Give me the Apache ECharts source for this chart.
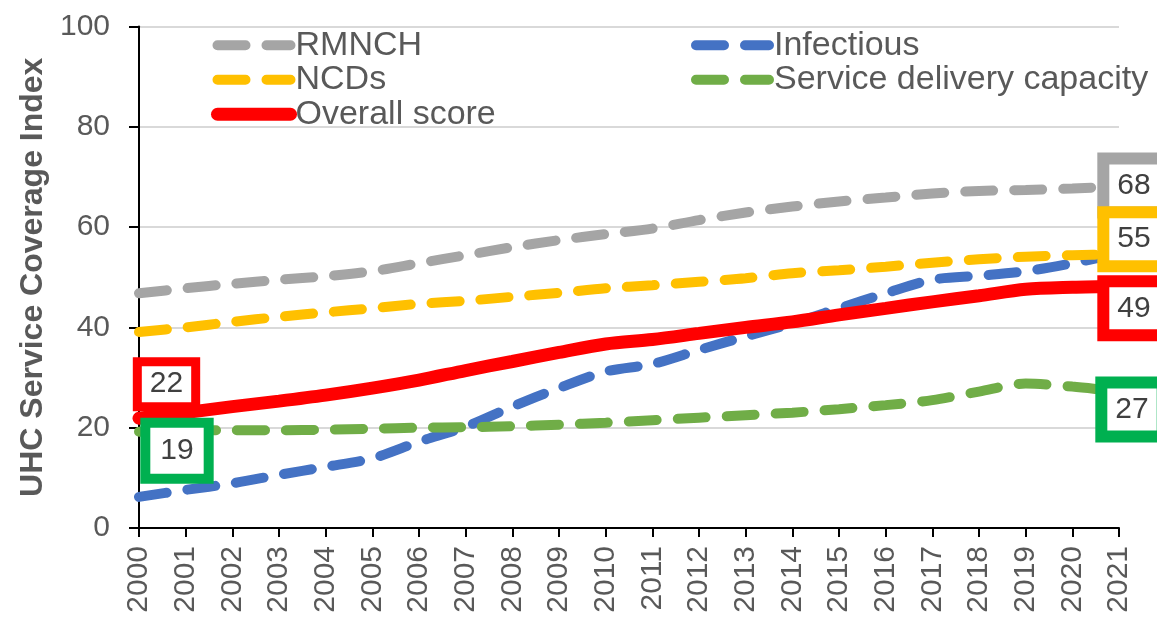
<!DOCTYPE html>
<html>
<head>
<meta charset="utf-8">
<script src="https://cdn.jsdelivr.net/npm/echarts@6/dist/echarts.min.js"></script>
<style>
  html, body { margin: 0; padding: 0; background: #fff; }
  #chart { width: 1157px; height: 620px; }
</style>
</head>
<body>
<div id="chart"></div>
<script>
const years = ['2000', '2001', '2002', '2003', '2004', '2005', '2006', '2007', '2008', '2009', '2010',
  '2011', '2012', '2013', '2014', '2015', '2016', '2017', '2018', '2019', '2020', '2021']

const rmnch = [46.8, 47.8, 48.7, 49.5, 50.2, 51.2, 52.8, 54.4, 56.0, 57.4, 58.6,
  59.7, 61.4, 62.9, 64.1, 65.1, 65.9, 66.7, 67.2, 67.4, 67.7, 68.1]
const ncds = [39.1, 40.0, 41.1, 42.1, 43.0, 43.8, 44.7, 45.3, 46.1, 46.9, 47.8,
  48.4, 49.1, 49.8, 50.8, 51.4, 52.1, 52.9, 53.6, 54.1, 54.4, 54.6]
const overall = [21.9, 23.0, 24.2, 25.3, 26.5, 27.9, 29.5, 31.4, 33.2, 35.0, 36.7,
  37.6, 38.8, 40.0, 41.1, 42.5, 43.8, 45.1, 46.3, 47.6, 48.0, 48.2]
const infectious = [6.2, 7.6, 8.9, 10.6, 12.2, 13.9, 17.2, 20.2, 24.2, 27.9, 31.2,
  32.7, 35.5, 38.2, 40.8, 43.8, 46.8, 49.5, 50.3, 51.2, 52.8, 54.8]
const capacity = [19.2, 19.4, 19.5, 19.5, 19.6, 19.8, 20.0, 20.1, 20.3, 20.6, 21.0,
  21.5, 22.0, 22.5, 23.0, 23.7, 24.5, 25.5, 27.2, 28.8, 28.2, 27.2]

// values printed in the boxes
const startLabels = { overall: 22, capacity: 19 }
const endLabels = { rmnch: 68, ncds: 55, overall: 49, capacity: 27 }

const font = '"Liberation Sans", Arial, sans-serif'
const last = years.length - 1
const dash = [28, 21]

function boxLabel(m) {
  return {
    show: true,
    position: 'inside',
    offset: m.offset,
    formatter: '{c}',
    fontFamily: font,
    fontSize: 30,
    lineHeight: 30,
    color: '#404040',
    backgroundColor: '#fff',
    borderColor: m.color,
    borderWidth: m.border || 12,
    borderRadius: 0,
    padding: m.pad || [6, 8]
  }
}

function marks(list) {
  return {
    symbol: 'circle',
    symbolSize: 1,
    itemStyle: { color: 'rgba(0,0,0,0)' },
    z: 10,
    data: list.map(m => ({
      coord: [years[m.i], m.v],
      value: m.text,
      label: boxLabel(m)
    }))
  }
}

function lineSeries(name, data, color, width, dashed, z) {
  return {
    name: name,
    type: 'line',
    data: data,
    smooth: 0.3,
    symbol: 'none',
    z: z,
    lineStyle: {
      color: color,
      width: width,
      type: dashed ? dash : 'solid',
      cap: 'round'
    },
    itemStyle: { color: color }
  }
}

const chart = echarts.init(document.getElementById('chart'))

const sInf = lineSeries('Infectious', infectious, '#4472C4', 10, true, 2)
const sRm = lineSeries('RMNCH', rmnch, '#A5A5A5', 10, true, 3)
sRm.markPoint = marks([{ i: last, v: rmnch[last], text: endLabels.rmnch, color: '#A5A5A5', offset: [15, -1] }])
const sNcd = lineSeries('NCDs', ncds, '#FFC000', 10, true, 3)
sNcd.markPoint = marks([{ i: last, v: ncds[last], text: endLabels.ncds, color: '#FFC000', offset: [15, -15] }])
const sCap = lineSeries('Service delivery capacity', capacity, '#70AD47', 10, true, 4)
sCap.markPoint = marks([
  { i: 0, v: capacity[0], text: startLabels.capacity, color: '#00B050', offset: [38, 19], border: 10, pad: [8, 10] },
  { i: last, v: capacity[last], text: endLabels.capacity, color: '#00B050', offset: [13, 18] }
])
const sAll = lineSeries('Overall score', overall, '#FF0000', 13, false, 5)
sAll.markPoint = marks([
  { i: 0, v: overall[0], text: startLabels.overall, color: '#FF0000', offset: [27.5, -34], border: 9, pad: [3, 8] },
  { i: last, v: overall[last], text: endLabels.overall, color: '#FF0000', offset: [15, 22] }
])

const legendBase = {
  orient: 'vertical',
  top: 28,
  padding: 0,
  itemWidth: 73,
  itemHeight: 10,
  itemGap: 0,
  itemStyle: { opacity: 0 },
  lineStyle: { width: 10, cap: 'round' },
  textStyle: { fontFamily: font, fontSize: 34, lineHeight: 34.5, color: '#595959' }
}

chart.setOption({
  animation: false,
  backgroundColor: '#fff',
  grid: { left: 139, right: 38, top: 26.5, bottom: 92 },
  legend: [
    Object.assign({}, legendBase, {
      left: 211,
      data: ['RMNCH', 'NCDs', { name: 'Overall score', lineStyle: { width: 13 } }]
    }),
    Object.assign({}, legendBase, { left: 691, data: ['Infectious', 'Service delivery capacity'] })
  ],
  xAxis: {
    type: 'category',
    data: years,
    boundaryGap: false,
    axisLine: { lineStyle: { color: '#000', width: 2 } },
    axisTick: { show: true, interval: 0, length: 9, lineStyle: { color: '#000', width: 2 } },
    axisLabel: { interval: 0, rotate: 90, margin: 18, fontFamily: font, fontSize: 30, color: '#595959' },
    splitLine: { show: false }
  },
  yAxis: {
    type: 'value',
    min: 0,
    max: 100,
    interval: 20,
    name: 'UHC Service Coverage Index',
    nameLocation: 'middle',
    nameRotate: 90,
    nameGap: 89,
    nameTextStyle: { fontFamily: font, fontSize: 32, fontWeight: 'bold', color: '#595959' },
    axisLine: { show: true, lineStyle: { color: '#000', width: 2 } },
    axisTick: { show: true, length: 10, lineStyle: { color: '#000', width: 2 } },
    axisLabel: { margin: 29, fontFamily: font, fontSize: 30, color: '#595959' },
    splitLine: { lineStyle: { color: '#D9D9D9', width: 2 } }
  },
  series: [sInf, sRm, sNcd, sCap, sAll]
})
</script>
</body>
</html>
